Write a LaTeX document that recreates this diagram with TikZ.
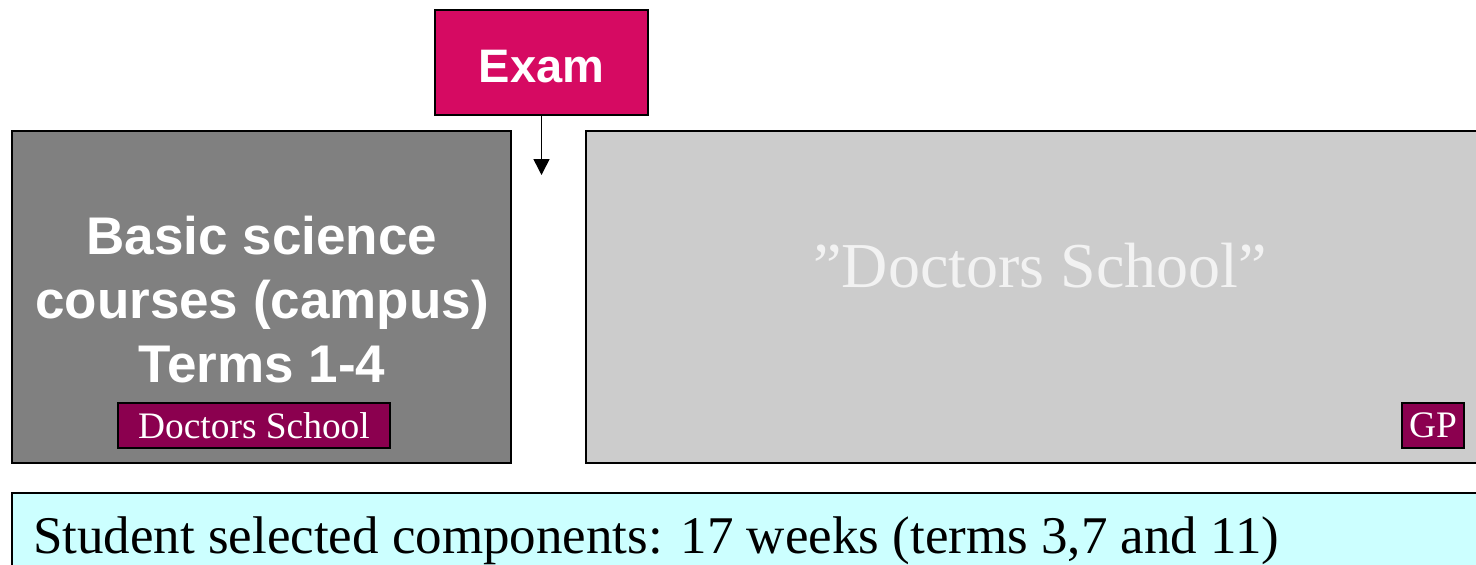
\documentclass[tikz,border=0pt]{standalone}
\usepackage{fontspec}
\setmainfont{Liberation Serif}
\newfontfamily\headfont{Liberation Sans}
\usetikzlibrary{arrows.meta}
\definecolor{examred}{RGB}{214,10,98}
\definecolor{schoolred}{RGB}{139,0,79}
\definecolor{campusgrey}{RGB}{128,128,128}
\definecolor{clinicgrey}{RGB}{204,204,204}
\definecolor{sscblue}{RGB}{204,255,255}
\begin{document}
\begin{tikzpicture}[x=0.5pt,y=-0.5pt,
every node/.style={anchor=center,
inner sep=0pt,
line width=1pt
},
phase/.style={%
draw,
minimum height=166pt
},
tag/.style={%
draw,
fill=schoolred,
text=white,
minimum height=22.5pt,
font=\fontsize{18.7}{22}\selectfont
}]
\useasboundingbox (0,0) rectangle (1476,564);
\clip (0,0) rectangle (1476,564);
\node[draw,fill=examred,text=white,minimum width=106.5pt,minimum height=52.5pt,text height=20pt,text depth=0pt,font=\headfont\bfseries\fontsize{23.5}{28}\selectfont]at(541.5,62.5)(exam){Exam};
\node[phase,fill=campusgrey,minimum width=249.5pt]at(261.5,297)(campus){};
\node[align=center,text=white,font=\headfont\bfseries\fontsize{26.5}{32}\selectfont]at(262,300)(basic){Basic science\\courses (campus)\\Terms 1-4};
\node[tag,minimum width=136pt]at(254,425.5)(ds){Doctors School};
\node[phase,fill=clinicgrey,minimum width=452pt]at(1038,297)(clinic){};
\node[anchor=base,text=white!95!black,font=\fontsize{32}{38}\selectfont]at(1040,287)(school){”Doctors School”};
\node[tag,minimum width=31pt]at(1433,425.5)(gp){GP};
\node[draw,fill=sscblue,minimum width=744pt,minimum height=53.5pt]at(756,546.5)(ssc){};
\node[anchor=base west,font=\fontsize{26.5}{32}\selectfont]at(32,553)(ssctext){Student selected components: 17 weeks (terms 3,7 and 11)};
\coordinate(tip)at(541.5,175);
\draw [-{Triangle[width=8pt,length=8pt]},line width=0.75pt] (exam)--(tip);
\end{tikzpicture}
\end{document}
